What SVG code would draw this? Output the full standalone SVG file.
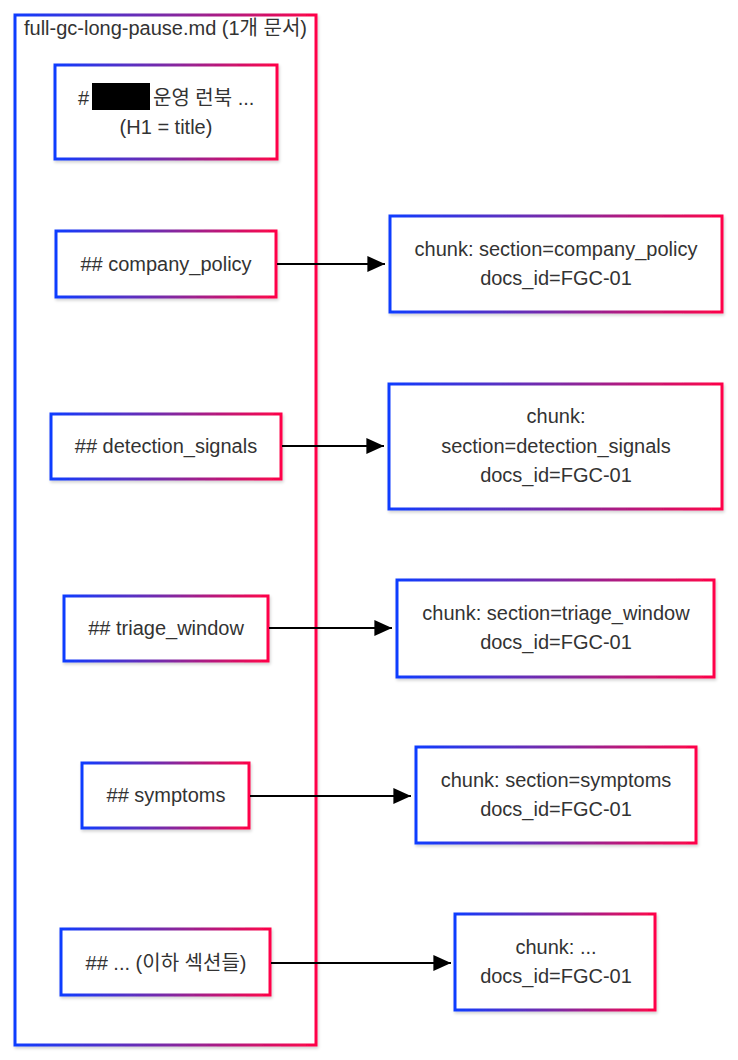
<svg xmlns="http://www.w3.org/2000/svg" width="738" height="1060" viewBox="0 0 738 1060">
<defs>
<linearGradient id="g" x1="0" y1="0" x2="1" y2="0">
<stop offset="0" stop-color="#0f3cff"/>
<stop offset="0.5" stop-color="#7b2aa6"/>
<stop offset="1" stop-color="#ff0448"/>
</linearGradient>
<filter id="sh" x="-5%" y="-5%" width="110%" height="115%">
<feDropShadow dx="1" dy="2" stdDeviation="1.5" flood-color="#000" flood-opacity="0.18"/>
</filter>
<marker id="ah" viewBox="0 0 10 10" refX="10" refY="5" markerWidth="8" markerHeight="8" markerUnits="strokeWidth" orient="auto">
<path d="M0,0.5 L10,5 L0,9.5 z" fill="#000"/>
</marker>
</defs>
<style>
.box{fill:#fff;stroke:url(#g);stroke-width:3;filter:url(#sh)}
.t{font-family:"Liberation Sans",Arial,"Noto Sans CJK KR",sans-serif;font-size:20px;fill:#333;text-anchor:middle}
.c{fill:none;stroke:#000;stroke-width:2.2;marker-end:url(#ah)}
</style>
<rect width="738" height="1060" fill="#fff"/>
<g id="cluster">
<rect class="box" x="15" y="15" width="301" height="1030"/>
<text class="t" x="165.5" y="35" fill="#222">full-gc-long-pause.md (1개 문서)</text>
</g>
<g id="title">
<rect class="box" x="55" y="65" width="222" height="94"/>
<text class="t" x="78" y="105" style="text-anchor:start">#</text>
<rect x="92" y="83" width="58" height="27" fill="#000"/>
<text class="t" x="153" y="105" style="text-anchor:start">운영 런북 ...</text>
<text class="t" x="166" y="134">(H1 = title)</text>
</g>
<g id="s1">
<rect class="box" x="56" y="231" width="220" height="66"/>
<text class="t" x="166" y="271">## company_policy</text>
</g>
<g id="s2">
<rect class="box" x="51" y="414" width="230" height="65"/>
<text class="t" x="166" y="453">## detection_signals</text>
</g>
<g id="s3">
<rect class="box" x="64" y="596" width="204" height="65"/>
<text class="t" x="166" y="635">## triage_window</text>
</g>
<g id="s4">
<rect class="box" x="82" y="763" width="167" height="65"/>
<text class="t" x="166" y="802">## symptoms</text>
</g>
<g id="s5">
<rect class="box" x="61" y="929" width="209" height="66"/>
<text class="t" x="166" y="970">## ... (이하 섹션들)</text>
</g>
<g id="c1">
<rect class="box" x="390" y="216" width="332" height="96"/>
<text class="t" x="556" y="256">chunk: section=company_policy</text>
<text class="t" x="556" y="285">docs_id=FGC-01</text>
</g>
<g id="c2">
<rect class="box" x="389" y="384" width="333" height="125"/>
<text class="t" x="556" y="423">chunk:</text>
<text class="t" x="556" y="453">section=detection_signals</text>
<text class="t" x="556" y="482">docs_id=FGC-01</text>
</g>
<g id="c3">
<rect class="box" x="397" y="580" width="317" height="97"/>
<text class="t" x="556" y="620">chunk: section=triage_window</text>
<text class="t" x="556" y="649">docs_id=FGC-01</text>
</g>
<g id="c4">
<rect class="box" x="416" y="747" width="280" height="96"/>
<text class="t" x="556" y="787">chunk: section=symptoms</text>
<text class="t" x="556" y="816">docs_id=FGC-01</text>
</g>
<g id="c5">
<rect class="box" x="455" y="914" width="200" height="96"/>
<text class="t" x="556" y="954">chunk: ...</text>
<text class="t" x="556" y="983">docs_id=FGC-01</text>
</g>
<g id="connectors">
<path class="c" d="M277,264 L385,264"/>
<path class="c" d="M282,446 L384,446"/>
<path class="c" d="M269,628 L392,628"/>
<path class="c" d="M250,796 L411,796"/>
<path class="c" d="M271,963 L451,963"/>
</g>
</svg>
